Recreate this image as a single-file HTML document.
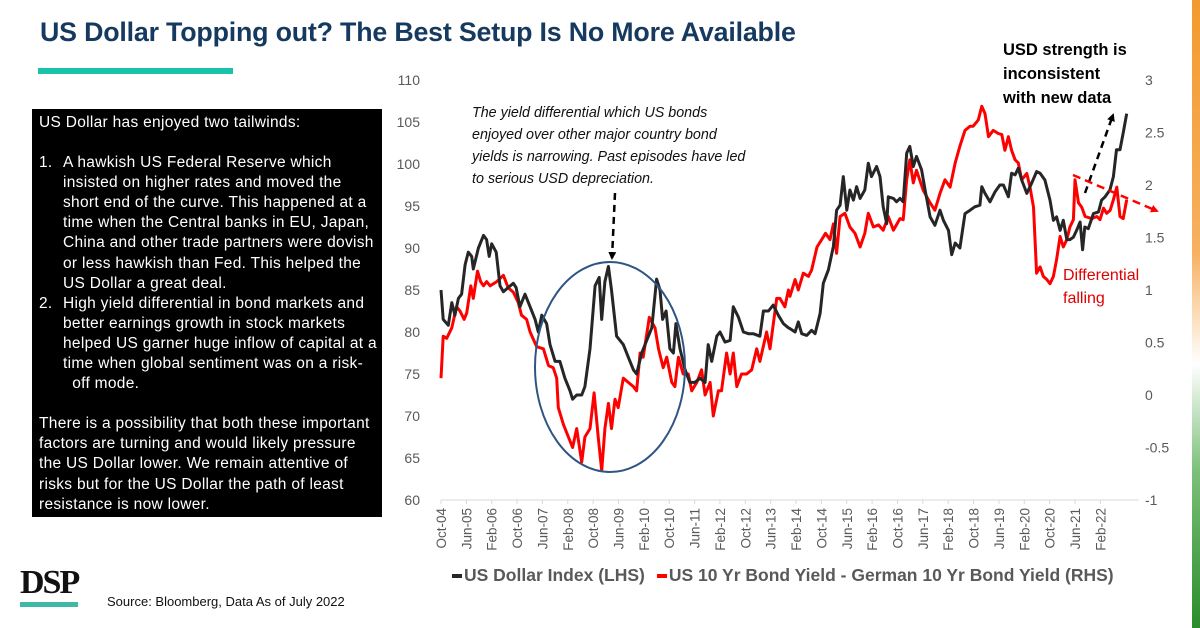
<!DOCTYPE html>
<html><head><meta charset="utf-8"><style>
body{margin:0;width:1200px;height:628px;overflow:hidden;background:#fff;font-family:"Liberation Sans",sans-serif;position:relative}
.abs{position:absolute}
.bx div{white-space:nowrap}
</style></head><body>
<div class="abs" style="left:40px;top:17px;font-size:26.8px;font-weight:bold;color:#163a5f;letter-spacing:-0.2px;white-space:nowrap">US Dollar Topping out? The Best Setup Is No More Available</div>
<div class="abs" style="left:38px;top:68px;width:195px;height:6px;background:#19c3aa"></div>
<div class="abs bx" style="left:32px;top:109px;width:350px;height:408px;background:#000;color:#fff;font-size:15.5px;line-height:20.1px;box-sizing:border-box;padding:4px 4px 0 7px;letter-spacing:0.3px;overflow:hidden">
<div>US Dollar has enjoyed two tailwinds:</div><div style="height:20px"></div>
<div style="display:flex"><span style="width:24px;flex:none">1.</span><span>A hawkish US Federal Reserve which<br>insisted on higher rates and moved the<br>short end of the curve. This happened at a<br>time when the Central banks in EU, Japan,<br>China and other trade partners were dovish<br>or less hawkish than Fed. This helped the<br>US Dollar a great deal.</span></div>
<div style="display:flex"><span style="width:24px;flex:none">2.</span><span>High yield differential in bond markets and<br>better earnings growth in stock markets<br>helped US garner huge inflow of capital at a<br>time when global sentiment was on a risk-<br>&nbsp;&nbsp;off mode.</span></div>
<div style="height:20px"></div>
<div>There is a possibility that both these important<br>factors are turning and would likely pressure<br>the US Dollar lower. We remain attentive of<br>risks but for the US Dollar the path of least<br>resistance is now lower.</div>
</div>
<div class="abs" style="left:20px;top:566px;font-family:'Liberation Serif',serif;font-weight:bold;font-size:34px;letter-spacing:-2px;color:#111;line-height:34px">DSP</div>
<div class="abs" style="left:20px;top:602px;width:58px;height:5px;background:#3fb8a6"></div>
<div class="abs" style="left:107px;top:594px;font-size:13px;color:#111">Source: Bloomberg, Data As of July 2022</div>
<div class="abs" style="left:1192px;top:0;width:8px;height:628px;background:linear-gradient(#f39a2e 0%,#f6b060 40%,#fff 58%,#7cc07a 75%,#2a8c2a 100%)"></div>
<svg class="abs" style="left:0;top:0" width="1200" height="628" id="chart"></svg>
<script>
const dxyMonths=[0,0.7,2.3,3.4,4.4,5.5,6.5,7.6,8.6,9.7,10.2,11.8,13.4,14.4,15.2,16,17.4,18.6,19.7,21.2,22.8,23.7,24.9,26.5,28.1,29.7,30.7,31.8,33.3,34.4,36,37.5,39.1,40.7,41.5,42.8,44.4,45.4,47,48.6,49.9,50.7,51.7,52.8,53.8,55.4,57.5,59.1,60.7,61.7,63.3,64.9,66.5,68,69.1,69.9,71,72.2,73.3,74.1,75.4,77,78.5,80.1,81.7,83.3,84.3,85.4,87,88,89.6,91.2,92.2,93.8,95.4,97,98.5,100.6,101.7,103.3,104.8,106.4,108,109.6,110.1,111.7,112.7,113.8,115.4,116.9,118,119.6,120.6,122.2,123.8,124.8,125.9,126.9,128,129,130.1,131.1,132.2,133.7,134.8,135.8,137.4,138.5,139.5,140.6,141.1,142.7,143.7,144.8,145.8,146.9,147.9,149,150,151.6,152.7,154.3,155.8,157.4,158.5,160.1,161.1,162.2,163.7,165.3,166.9,168.4,170,170.6,171.6,173.2,174.8,176.3,177.4,179,180,181.1,182.1,183.2,184.8,186.3,187.9,189,190.5,192.1,193.2,194.2,195.3,196.3,197.4,198.4,199.5,200.5,201.6,202.4,203.1,204.2,205.8,207.4,208.4,209.5,211,212.1,213.1,214.2,215.2,216.3];
const dxyValues=[85,81.5,80.8,83.5,82,84,84.5,88,89.5,89,87.5,90,91.5,91,89,90.5,89.5,85.5,84.8,85.3,85.8,85.3,83,84.5,83,81.5,80,82,81,78.5,76.5,76.5,74.5,73,72,72.5,72.5,73.5,78,85.5,86.5,81.5,86,87.8,85,79.5,78.5,77,75.5,75,77.5,79,80.5,86.3,85,81.5,82.5,78,77.5,81,78,75.5,74,74,74.5,74,78.5,76.5,79.5,80,78.8,79,83,81.8,80,79.8,79.8,79.5,82.5,82.5,83.2,82,81,80.5,80.4,80,81.2,79.8,79.6,80.2,79.8,82.2,85.8,87.4,90.2,94.5,95.1,98.5,94.5,96.9,95.7,97.3,95.9,96.9,100.1,98.5,99.7,98.5,94.9,92.9,96.1,95.9,95.5,95.9,95.5,101.3,102.1,99.7,100.9,99.3,96.9,93.7,92.7,94.5,93.3,92.1,89.2,90.6,90,94.1,94.5,94.9,95.1,97.3,96.5,95.5,96.7,97.5,97.5,96.1,98.9,98.7,99.5,98.1,96.5,97.7,99.1,98.9,98.1,95.7,93.3,93.7,92.1,93.3,91,91,91.3,92.1,93.1,89.8,92.5,92.3,94.1,94.3,95.7,96.1,96.9,98.5,101.7,101.7,103.7,106];
const spreadMonths=[0,0.7,1.8,3.4,4.9,6,7.3,8.1,9.4,10.2,11.5,12.5,13.4,14.4,15.5,17.6,19.7,21.2,22.8,24.4,25.4,27,28.1,30.2,32.3,33.9,35.4,36.5,37,38.6,40.2,41.5,42.8,44.4,45.4,47,48.3,49.6,50.7,51.7,52.8,53.8,54.9,55.9,57.5,59.1,60.7,61.7,62.8,63.8,65.7,67.5,68.6,70.1,71.2,72.8,73.8,74.9,76.4,78,79.1,80.7,82.2,83.3,84.9,85.9,87.5,88.5,90.1,91.2,92.2,93.3,94.8,96.4,98,99.6,100.6,102.7,103.8,105.9,106.9,108.5,109.6,110.1,111.7,112.7,114.3,115.9,116.9,118.6,120.1,121.3,122.7,123.8,124.8,125.9,127.4,129,130.6,132.2,133.7,134.8,136.4,138,139.5,141.1,142.7,144.8,145.8,146.9,147.9,149,150,152.1,154.3,155.8,157.4,159,160.6,162.2,163.7,165.3,166.9,167.9,169.5,170.6,171.6,172.7,174.2,175.8,176.9,177.9,179,180,181.1,182.1,183.2,184.8,185.8,186.9,187.9,189,190,191.1,192.1,193.2,194.2,195.3,196.3,197.4,198.4,199.5,200,201.1,202.1,203.2,205.3,206.9,207.9,209,210,211.1,212.1,213.2,214.2,215.2,216.3];
const spreadValues=[0.16,0.56,0.54,0.64,0.84,0.8,0.72,0.78,1.04,0.92,1.18,1.08,1.04,1.08,1.04,1.08,1.14,1.02,0.98,0.88,0.76,0.72,0.6,0.46,0.44,0.28,0.26,0.16,-0.12,-0.28,-0.4,-0.5,-0.32,-0.64,-0.4,-0.32,0.02,-0.4,-0.72,-0.32,-0.08,-0.32,-0.04,-0.12,0.16,0.12,0.08,0.04,0.4,0.36,0.74,0.64,0.44,0.26,0.36,0.12,0.08,0.36,0.2,0.2,0.04,0.12,0.24,0,0.12,-0.2,0.04,0.04,0.4,0.2,0.4,0.08,0.2,0.2,0.24,0.44,0.32,0.6,0.44,0.92,0.92,0.84,1.0,0.94,1.1,1.0,1.16,1.13,1.19,1.41,1.48,1.54,1.48,1.63,1.35,1.7,1.73,1.6,1.54,1.41,1.54,1.73,1.6,1.62,1.57,1.7,1.57,1.68,1.67,2.05,2.24,2.02,2.14,1.95,1.83,1.76,1.92,2.05,1.98,2.21,2.37,2.52,2.56,2.56,2.62,2.75,2.68,2.46,2.52,2.49,2.48,2.33,2.46,2.33,2.24,2.21,2.05,2.11,1.98,1.79,1.16,1.22,1.13,1.1,1.06,1.13,1.29,1.51,1.41,1.48,1.6,1.67,2.05,1.83,1.79,1.7,1.68,1.7,1.67,1.78,1.73,1.76,1.86,1.98,1.7,1.68,1.86];
const leftTicks=[60,65,70,75,80,85,90,95,100,105,110];
const rightTicks=[-1,-0.5,0,0.5,1,1.5,2,2.5,3];
const xLabels=["Oct-04","Jun-05","Feb-06","Oct-06","Jun-07","Feb-08","Oct-08","Jun-09","Feb-10","Oct-10","Jun-11","Feb-12","Oct-12","Jun-13","Feb-14","Oct-14","Jun-15","Feb-16","Oct-16","Jun-17","Feb-18","Oct-18","Jun-19","Feb-20","Oct-20","Jun-21","Feb-22"];

const svg=document.getElementById('chart');
const NS='http://www.w3.org/2000/svg';
const X0=441,PXM=3.17,TOP=80,BOT=500;
const x=m=>X0+m*PXM;
const yL=v=>TOP+(110-v)*(BOT-TOP)/50;
const yR=v=>TOP+(3-v)*(BOT-TOP)/4;
function mk(tag,attrs,parent){const e=document.createElementNS(NS,tag);for(const k in attrs)e.setAttribute(k,attrs[k]);(parent||svg).appendChild(e);return e;}
const ax=mk('line',{x1:x(0),x2:x(220),y1:BOT,y2:BOT,stroke:'#d9d9d9','stroke-width':1});


leftTicks.forEach(v=>{const t=mk('text',{x:420,y:yL(v)+5,'text-anchor':'end','font-size':14,fill:'#595959','font-family':'Liberation Sans'});t.textContent=v;

});
rightTicks.forEach(v=>{const t=mk('text',{x:1145,y:yR(v)+5,'text-anchor':'start','font-size':14,fill:'#595959','font-family':'Liberation Sans'});t.textContent=v;

});
xLabels.forEach((l,i)=>{const xx=x(i*8);const tk=mk('line',{x1:xx,x2:xx,y1:BOT,y2:BOT+4,stroke:'#d9d9d9'});


const t=mk('text',{x:0,y:0,transform:`translate(${xx+5},${BOT+8}) rotate(-90)`,'text-anchor':'end','font-size':13.5,fill:'#595959','font-family':'Liberation Sans'});t.textContent=l;

});
function line(ms,vs,ys,color,name){const d=ms.map((m,i)=>(i?'L':'M')+x(m).toFixed(1)+' '+ys(vs[i]).toFixed(1)).join('');const p=mk('path',{d:d,fill:'none',stroke:color,'stroke-width':3,'stroke-linejoin':'round'});

}
line(spreadMonths,spreadValues,yR,'#ff0000','yield-differential-line');
line(dxyMonths,dxyValues,yL,'#262626','dollar-index-line');
const el=mk('ellipse',{cx:610,cy:367,rx:75,ry:105,fill:'none',stroke:'#2f5584','stroke-width':2});


const defs=mk('defs',{});
const mkA=(id,c)=>{const m=mk('marker',{id:id,markerWidth:8,markerHeight:8,refX:6,refY:4,orient:'auto',markerUnits:'userSpaceOnUse'},defs);mk('path',{d:'M0 0L8 4L0 8z',fill:c},m);};
mkA('ab','#000');mkA('ar','#ff0000');
const a1=mk('line',{x1:615,y1:193,x2:612,y2:258,stroke:'#000','stroke-width':2.5,'stroke-dasharray':'7 5','marker-end':'url(#ab)'});


const a2=mk('line',{x1:1085,y1:193,x2:1113,y2:115,stroke:'#000','stroke-width':2.5,'stroke-dasharray':'7 5','marker-end':'url(#ab)'});


const a3=mk('line',{x1:1073,y1:175,x2:1157,y2:211,stroke:'#ff0000','stroke-width':2.5,'stroke-dasharray':'8 5','marker-end':'url(#ar)'});


</script>
<div class="abs" style="left:472px;top:102px;font-size:14.3px;line-height:22px;font-style:italic;color:#111;white-space:nowrap">The yield differential which US bonds<br>enjoyed over other major country bond<br>yields is narrowing. Past episodes have led<br>to serious USD depreciation.</div>
<div class="abs" style="left:1003px;top:38px;font-size:16.5px;line-height:24px;font-weight:bold;color:#000;white-space:nowrap">USD strength is<br>inconsistent<br>with new data</div>
<div class="abs" style="left:1063px;top:264px;font-size:16px;line-height:23px;color:#e00000;white-space:nowrap">Differential<br>falling</div>
<div class="abs" style="left:452px;top:565px;font-size:17.5px;font-weight:bold;color:#595959;white-space:nowrap;display:flex;align-items:center">
<span style="display:inline-block;width:10px;height:4px;background:#262626;margin-right:2px"></span><span>US Dollar Index (LHS)</span>
<span style="display:inline-block;width:10px;height:4px;background:#ff0000;margin:0 2px 0 12px"></span><span>US 10 Yr Bond Yield - German 10 Yr Bond Yield (RHS)</span>
</div>
</body></html>
